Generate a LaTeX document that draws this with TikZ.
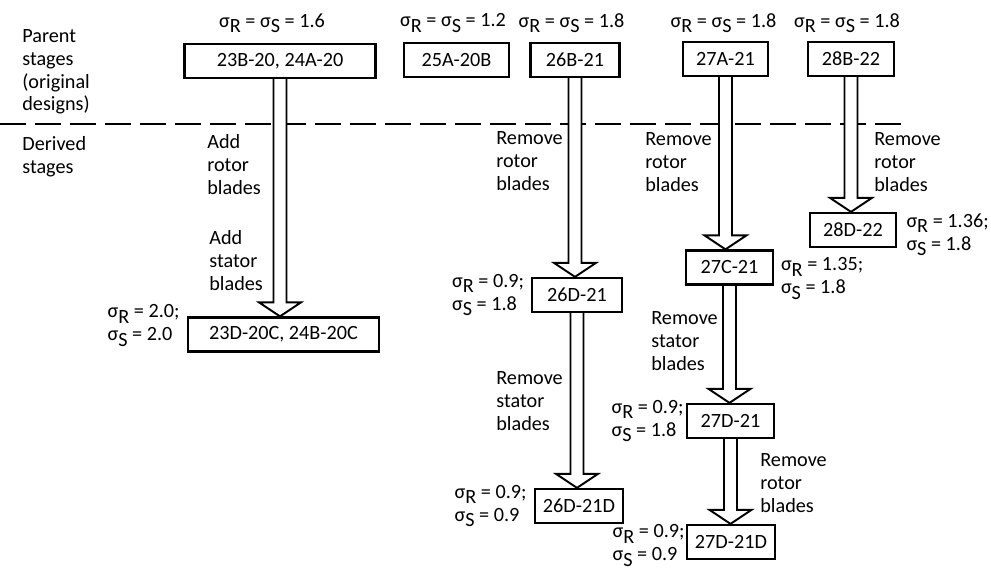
\documentclass[tikz,border=0pt]{standalone}
\usepackage{fontspec}
\setmainfont{Carlito}
\usetikzlibrary{calc,positioning,backgrounds}
\newcommand{\sgR}{σ\raisebox{-.55ex}{R}}
\newcommand{\sgS}{σ\raisebox{-.55ex}{S}}

\begin{document}
\begin{tikzpicture}[x=0.2mm,y=-0.2mm,
  every node/.style={font=\fontsize{11.5}{13}\selectfont},
  stagebox/.style={draw,line width=1.3pt,fill=white,minimum height=6.8mm,inner sep=0pt},
  note/.style={align=left,anchor=north west,inner sep=0pt},
  sig/.style={align=left,inner sep=0pt},
  hollow/.style={draw,line width=1.1pt,fill=white,line join=miter,
    to path={let \p1=(\tikztostart), \p2=(\tikztotarget) in
      (\x1-0.13cm,\y1) -- (\x1-0.13cm,\y2+0.28cm) -- (\x1-0.42cm,\y2+0.28cm) -- (\x1,\y2)
      -- (\x1+0.42cm,\y2+0.28cm) -- (\x1+0.13cm,\y2+0.28cm) -- (\x1+0.13cm,\y1)}}]
\useasboundingbox (0,0) rectangle (991,571);

\node[note] (parent) at (22,29) {Parent\\stages\\(original\\designs)};
\node[note] (derived) at (22,136) {Derived\\stages};

% parent stages
\node[stagebox,minimum width=38.2mm] (B23) at (280,61) {23B-20, 24A-20};
\node[stagebox,minimum width=21mm] (B25) at (456.5,60) {25A-20B};
\node[stagebox,minimum width=17.8mm] (B26) at (575,60) {26B-21};
\node[stagebox,minimum width=17mm] (B27) at (725.5,59) {27A-21};
\node[stagebox,minimum width=17.2mm] (B28) at (851,59) {28B-22};
\node[sig] (s23) at (272,23) {\sgR{} = \sgS{} = 1.6};
\node[sig] (s25) at (453,23) {\sgR{} = \sgS{} = 1.2};
\node[sig] (s26) at (571.5,23) {\sgR{} = \sgS{} = 1.8};
\node[sig] (s27) at (723.5,23) {\sgR{} = \sgS{} = 1.8};
\node[sig] (s28) at (847,23) {\sgR{} = \sgS{} = 1.8};

% derived stages
\node[stagebox,minimum width=38.2mm] (D23) at (283.5,334.5) {23D-20C, 24B-20C};
\node[stagebox,minimum width=18mm] (D26) at (577,295) {26D-21};
\node[stagebox,minimum width=17.6mm] (D26D) at (579,506) {26D-21D};
\node[stagebox,minimum width=17.4mm] (C27) at (729.5,267.5) {27C-21};
\node[stagebox,minimum width=17.4mm] (D27) at (730.5,421) {27D-21};
\node[stagebox,minimum width=17.6mm] (D27D) at (731,542) {27D-21D};
\node[stagebox,minimum width=17.2mm] (D28) at (853,230) {28D-22};

\node[sig,left=1.4mm of D23,yshift=1.8mm] (sd23) {\sgR{} = 2.0;\\\sgS{} = 2.0};
\node[sig,left=1.3mm of D26] (sd26) {\sgR{} = 0.9;\\\sgS{} = 1.8};
\node[sig,left=1.4mm of D26D] (sd26d) {\sgR{} = 0.9;\\\sgS{} = 0.9};
\node[sig,left=0.4mm of D27] (sd27) {\sgR{} = 0.9;\\\sgS{} = 1.8};
\node[sig,left=0.2mm of D27D,yshift=-0.7mm] (sd27d) {\sgR{} = 0.9;\\\sgS{} = 0.9};
\node[sig,right=1.3mm of C27,yshift=-2.2mm] (sc27) {\sgR{} = 1.35;\\\sgS{} = 1.8};
\node[sig,right=1.8mm of D28,yshift=-1mm] (sd28) {\sgR{} = 1.36;\\\sgS{} = 1.8};

\node[note] (addrot) at (207,134) {Add\\rotor\\blades};
\node[note] (addsta) at (209,230) {Add\\stator\\blades};
\node[note] (rm26r) at (496,131) {Remove\\rotor\\blades};
\node[note] (rm27r) at (645,132) {Remove\\rotor\\blades};
\node[note] (rm28r) at (874,132) {Remove\\rotor\\blades};
\node[note] (rm26s) at (496,371) {Remove\\stator\\blades};
\node[note] (rm27s) at (651,311) {Remove\\stator\\blades};
\node[note] (rm27r2) at (760,453) {Remove\\rotor\\blades};

\begin{scope}[on background layer]
\draw[line width=1.1pt,dash pattern=on 5.2mm off 1.8mm] (0,124) -- (905,124);
\draw[hollow] (B23.south) to (D23.north);
\draw[hollow] (B26.south) to (D26.north);
\draw[hollow] (D26.south) to (D26D.north);
\draw[hollow] (B27.south) to (C27.north);
\draw[hollow] (C27.south) to (D27.north);
\draw[hollow] (D27.south) to (D27D.north);
\draw[hollow] (B28.south) to (D28.north);
\end{scope}
\end{tikzpicture}
\end{document}
